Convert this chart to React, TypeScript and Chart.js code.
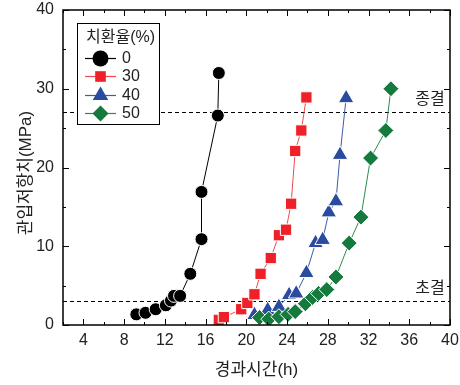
import React, { useEffect, useRef } from "react";
import { Chart, registerables } from "chart.js";

Chart.register(...registerables);

const FONT = "'Liberation Sans', 'Noto Sans CJK KR', Arial, sans-serif";
const TEXT = "#222222";

const legendTitle = "치환율(%)";
const seriesNames = ["0", "30", "40", "50"];
const seriesColors = ["#000000", "#ED2127", "#2B4C9E", "#167A3E"];
const lineColors = ["#000000", "#EE4A4F", "#3C5BA8", "#2E8A52"];
const pointStyles = ["circle", "rect", "triangle", "rectRot"];
const pointRadii = [6.5, 8, 9, 8];

// 치환율 0%
const time0 = [9.2, 10.1, 11.1, 12.1, 12.6, 12.9, 13.5, 14.5, 15.6, 15.6, 17.2, 17.3];
const resist0 = [1.35, 1.55, 2.0, 2.5, 3.1, 3.7, 3.7, 6.5, 10.9, 16.9, 26.6, 32.0];
// 치환율 30%
const time30 = [17.3, 17.8, 19.5, 20.1, 20.8, 21.4, 22.4, 23.2, 23.9, 24.4, 24.8, 25.4, 25.9];
const resist30 = [0.65, 1.0, 2.0, 2.8, 3.9, 6.5, 8.5, 11.4, 12.1, 15.4, 22.1, 24.7, 28.9];
// 치환율 40%
const time40 = [20.8, 22.1, 23.2, 24.2, 24.9, 25.9, 26.8, 27.5, 28.1, 28.8, 29.2, 29.8];
const resist40 = [1.27, 1.9, 2.3, 3.8, 4.0, 6.6, 10.4, 10.8, 14.3, 15.7, 21.6, 28.8];
// 치환율 50%
const time50 = [21.3, 22.2, 23.2, 24.1, 24.8, 25.8, 26.5, 27.1, 27.9, 28.8, 30.1, 31.25, 32.2, 33.7, 34.2];
const resist50 = [0.95, 0.75, 1.05, 1.35, 1.7, 2.7, 3.5, 4.0, 4.5, 6.1, 10.4, 13.7, 21.2, 24.7, 30.0];

const times = [time0, time30, time40, time50];
const resists = [resist0, resist30, resist40, resist50];

const xMin = 2;
const xMax = 40;
const xStep = 2;
const xLabelEvery = 4;
const yMin = 0;
const yMax = 40;
const yStep = 5;
const yLabelEvery = 10;

const refValues = [27, 3];
const refLabels = ["종결", "초결"];
const xTitle = "경과시간(h)";
const yTitle = "관입저항치(MPa)";

function drawMarker(ctx: CanvasRenderingContext2D, style: string, x: number, y: number, r: number, color: string) {
  ctx.save();
  ctx.fillStyle = color;
  ctx.beginPath();
  if (style === "circle") {
    ctx.arc(x, y, r, 0, Math.PI * 2);
  } else if (style === "rect") {
    const s = r * Math.SQRT1_2;
    ctx.rect(x - s, y - s, 2 * s, 2 * s);
  } else if (style === "triangle") {
    ctx.moveTo(x, y - r);
    ctx.lineTo(x + r * Math.sin((2 * Math.PI) / 3), y - r * Math.cos((2 * Math.PI) / 3));
    ctx.lineTo(x + r * Math.sin((4 * Math.PI) / 3), y - r * Math.cos((4 * Math.PI) / 3));
    ctx.closePath();
  } else {
    ctx.moveTo(x, y - r);
    ctx.lineTo(x + r, y);
    ctx.lineTo(x, y + r);
    ctx.lineTo(x - r, y);
    ctx.closePath();
  }
  ctx.fill();
  ctx.restore();
}

const framePlugin = {
  id: "framePlugin",
  beforeDatasetsDraw(chart: any) {
    const { ctx, chartArea: a, scales } = chart;
    ctx.save();
    ctx.strokeStyle = "#000";
    ctx.lineWidth = 1;
    ctx.setLineDash([4, 3]);
    refValues.forEach((v) => {
      const y = Math.round(scales.y.getPixelForValue(v)) + 0.5;
      ctx.beginPath();
      ctx.moveTo(a.left, y);
      ctx.lineTo(a.right, y);
      ctx.stroke();
    });
    ctx.restore();
  },
  afterDraw(chart: any) {
    const { ctx, chartArea: a, scales } = chart;
    ctx.save();
    // frame
    ctx.strokeStyle = "#000";
    ctx.lineWidth = 1.5;
    ctx.strokeRect(a.left, a.top, a.right - a.left, a.bottom - a.top);
    // ticks (inward, all sides)
    ctx.lineWidth = 1;
    for (let v = xMin; v <= xMax + 1e-9; v += xStep) {
      const px = Math.round(scales.x.getPixelForValue(v)) + 0.5;
      const len = v % xLabelEvery === 0 ? 6 : 3;
      ctx.beginPath();
      ctx.moveTo(px, a.bottom);
      ctx.lineTo(px, a.bottom - len);
      ctx.moveTo(px, a.top);
      ctx.lineTo(px, a.top + len);
      ctx.stroke();
    }
    for (let v = yMin; v <= yMax + 1e-9; v += yStep) {
      const py = Math.round(scales.y.getPixelForValue(v)) + 0.5;
      const len = v % yLabelEvery === 0 ? 6 : 3;
      ctx.beginPath();
      ctx.moveTo(a.left, py);
      ctx.lineTo(a.left + len, py);
      ctx.moveTo(a.right, py);
      ctx.lineTo(a.right - len, py);
      ctx.stroke();
    }
    // reference labels
    ctx.fillStyle = TEXT;
    ctx.font = `16px ${FONT}`;
    ctx.textAlign = "center";
    ctx.textBaseline = "middle";
    refValues.forEach((v, i) => {
      const y = scales.y.getPixelForValue(v);
      ctx.fillText(refLabels[i], 430, y - 13);
    });
    // axis titles
    ctx.font = `17px ${FONT}`;
    ctx.fillText(xTitle, (a.left + a.right) / 2, 370);
    ctx.save();
    ctx.translate(26, 173);
    ctx.rotate(-Math.PI / 2);
    ctx.fillText(yTitle, 0, 0);
    ctx.restore();
    // legend
    const lx = 77, ly = 23, lw = 82, lh = 101;
    ctx.fillStyle = "#fff";
    ctx.fillRect(lx, ly, lw, lh);
    ctx.strokeStyle = "#000";
    ctx.lineWidth = 1;
    ctx.strokeRect(lx + 0.5, ly + 0.5, lw, lh);
    ctx.fillStyle = TEXT;
    ctx.font = `16px ${FONT}`;
    ctx.textAlign = "left";
    ctx.fillText(legendTitle, 86, 38);
    const rowY = [58, 76, 95, 113];
    const legendR = [8, 7.5, 9, 8];
    chart.data.datasets.forEach((ds: any, i: number) => {
      const y = rowY[i];
      ctx.strokeStyle = lineColors[i];
      ctx.lineWidth = 1.2;
      ctx.beginPath();
      ctx.moveTo(85, y + 0.5);
      ctx.lineTo(116, y + 0.5);
      ctx.stroke();
      drawMarker(ctx, pointStyles[i], 100.5, y + 0.5, legendR[i], seriesColors[i]);
      ctx.fillStyle = TEXT;
      ctx.fillText(ds.label, 122, y + 1);
    });
    ctx.restore();
  },
};

function zeroPad(s: any) {
  s.paddingTop = 0;
  s.paddingBottom = 0;
  s.paddingLeft = 0;
  s.paddingRight = 0;
}

export default function App() {
  const ref = useRef<HTMLCanvasElement | null>(null);
  useEffect(() => {
    if (!ref.current) return;
    const datasets = seriesNames.map((name, i) => ({
      label: name,
      data: times[i].map((t, j) => ({ x: t, y: resists[i][j] })),
      showLine: true,
      borderColor: lineColors[i],
      borderWidth: 1,
      backgroundColor: seriesColors[i],
      pointBackgroundColor: seriesColors[i],
      pointBorderColor: "#ffffff",
      pointBorderWidth: 1,
      pointStyle: pointStyles[i] as any,
      pointRadius: pointRadii[i],
      pointHoverRadius: pointRadii[i],
      order: 4 - i,
    }));
    const chart = new Chart(ref.current, {
      type: "scatter",
      data: { datasets },
      options: {
        responsive: false,
        animation: false,
        events: [],
        layout: { padding: { top: 10, right: 9, left: 0, bottom: 0 } },
        plugins: { legend: { display: false }, tooltip: { enabled: false } },
        scales: {
          x: {
            type: "linear",
            min: xMin,
            max: xMax,
            grid: { display: false, drawTicks: false },
            border: { display: false },
            ticks: {
              stepSize: xStep,
              autoSkip: false,
              maxRotation: 0,
              padding: 6,
              color: TEXT,
              font: { family: FONT, size: 16 },
              callback: (v: any) => (Number(v) % xLabelEvery === 0 ? String(v) : ""),
            },
            afterFit: (s: any) => {
              s.height = 60;
              zeroPad(s);
            },
          },
          y: {
            type: "linear",
            min: yMin,
            max: yMax,
            grid: { display: false, drawTicks: false },
            border: { display: false },
            ticks: {
              stepSize: yStep,
              autoSkip: false,
              padding: 9,
              color: TEXT,
              font: { family: FONT, size: 16 },
              callback: (v: any) => (Number(v) % yLabelEvery === 0 ? String(v) : ""),
            },
            afterFit: (s: any) => {
              s.width = 63;
              zeroPad(s);
            },
          },
        },
      },
      plugins: [framePlugin],
    });
    return () => chart.destroy();
  }, []);
  return (
    <div style={{ position: "absolute", left: 0, top: 0, width: 460, height: 385, background: "#fff" }}>
      <canvas ref={ref} width={460} height={385} />
    </div>
  );
}
